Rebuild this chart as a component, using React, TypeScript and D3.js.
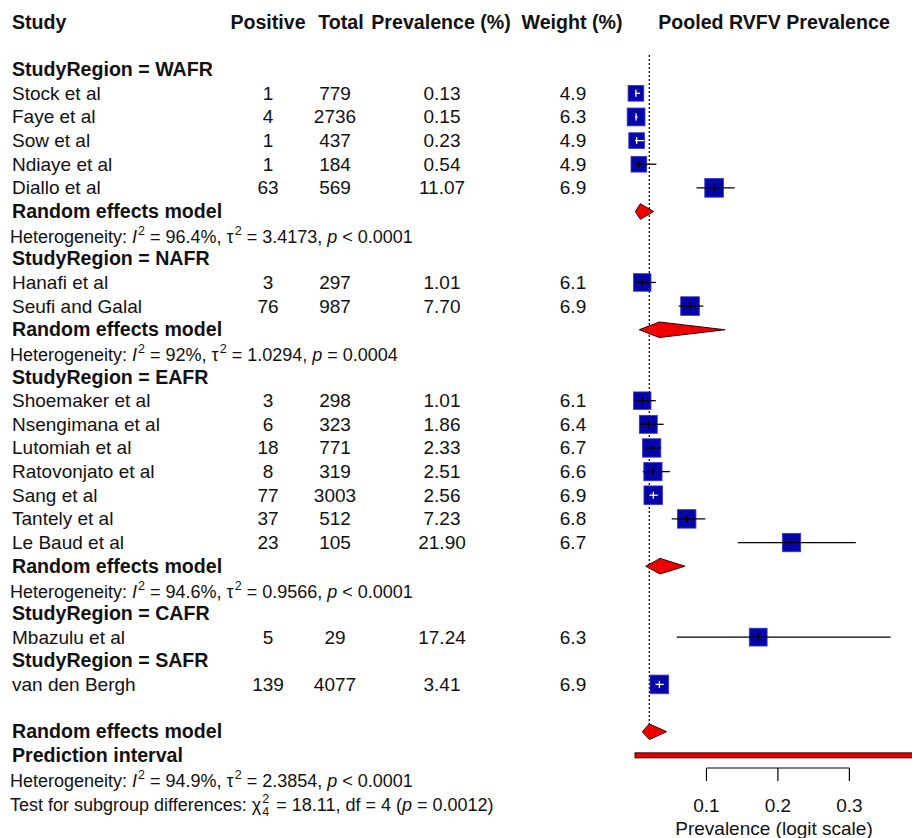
import React from "react";
import * as d3 from "d3";

// ---------- data ----------
const regionNames = ["WAFR", "NAFR", "EAFR", "CAFR", "SAFR"];
const studyNames = [
  "Stock et al", "Faye et al", "Sow et al", "Ndiaye et al", "Diallo et al",
  "Hanafi et al", "Seufi and Galal",
  "Shoemaker et al", "Nsengimana et al", "Lutomiah et al", "Ratovonjato et al", "Sang et al", "Tantely et al", "Le Baud et al",
  "Mbazulu et al",
  "van den Bergh",
];
const studyRegion = [
  "WAFR", "WAFR", "WAFR", "WAFR", "WAFR",
  "NAFR", "NAFR",
  "EAFR", "EAFR", "EAFR", "EAFR", "EAFR", "EAFR", "EAFR",
  "CAFR",
  "SAFR",
];
const positives = [1, 4, 1, 1, 63, 3, 76, 3, 6, 18, 8, 77, 37, 23, 5, 139];
const totals = [779, 2736, 437, 184, 569, 297, 987, 298, 323, 771, 319, 3003, 512, 105, 29, 4077];
const prevalence = [0.13, 0.15, 0.23, 0.54, 11.07, 1.01, 7.7, 1.01, 1.86, 2.33, 2.51, 2.56, 7.23, 21.9, 17.24, 3.41];
const weights = [4.9, 6.3, 4.9, 4.9, 6.9, 6.1, 6.9, 6.1, 6.4, 6.7, 6.6, 6.9, 6.8, 6.7, 6.3, 6.9];
const ciLower = [0.0, 0.04, 0.01, 0.01, 8.61, 0.21, 6.11, 0.21, 0.68, 1.39, 1.09, 2.03, 5.14, 14.4, 5.85, 2.87];
const ciUpper = [0.71, 0.37, 1.27, 2.99, 13.96, 2.92, 9.55, 2.91, 4.0, 3.66, 4.88, 3.19, 9.83, 30.9, 35.77, 4.02];

// subgroup pooled estimates (%), only regions with > 1 study
const pooledRegions = ["WAFR", "NAFR", "EAFR"];
const pooledEst = [0.75, 3.4, 3.5];
const pooledLower = [0.05, 0.6, 1.5];
const pooledUpper = [2.6, 12.6, 7.0];
const hetI2 = ["96.4%", "92%", "94.6%"];
const hetTau2 = ["3.4173", "1.0294", "0.9566"];
const hetP = ["< 0.0001", "= 0.0004", "< 0.0001"];

// overall
const overallEst = 2.0;
const overallLower = 1.02;
const overallUpper = 4.43;
const predLower = 0.0;
const predUpper = 55.0;
const overallI2 = "94.9%";
const overallTau2 = "2.3854";
const overallP = "< 0.0001";
const subgroupChi2 = "18.11";
const subgroupDf = "4";
const subgroupP = "0.0012";

const axisTicks = [0.1, 0.2, 0.3];
const headers = ["Study", "Positive", "Total", "Prevalence (%)", "Weight (%)", "Pooled RVFV Prevalence"];

// ---------- layout ----------
const W = 912;
const H = 838;
const FONT = "'Liberation Sans', Arial, Helvetica, sans-serif";
const FS = 19;
const BFS = 19.6;
const HFS = 18;
const TXT = "#111";

const x = d3.scaleLinear().domain([0, 0.389]).range([635, 913]);
const y = d3.scaleLinear().domain([0, 27]).range([93.3, 731.7]);

const colX = { study: 12, pos: 268, tot: 335, totH: 341, prev: 442, prevH: 441, wt: 573, wtH: 572, plot: 774 };

type Row =
  | { kind: "header"; row: number; region: string }
  | { kind: "study"; row: number; idx: number }
  | { kind: "pooled"; row: number; g: number }
  | { kind: "het"; row: number; g: number };

function buildRows(): Row[] {
  const rows: Row[] = [];
  let r = -1;
  regionNames.forEach((reg) => {
    rows.push({ kind: "header", row: r, region: reg });
    r++;
    const idxs = studyRegion.map((s, i) => (s === reg ? i : -1)).filter((i) => i >= 0);
    idxs.forEach((i) => {
      rows.push({ kind: "study", row: r, idx: i });
      r++;
    });
    const g = pooledRegions.indexOf(reg);
    if (g >= 0) {
      rows.push({ kind: "pooled", row: r, g });
      rows.push({ kind: "het", row: r + 1, g });
      r += 2;
    }
  });
  return rows;
}

function Diamond({ lo, est, hi, cy }: { lo: number; est: number; hi: number; cy: number }) {
  const h = 7.8;
  const pts = [
    [x(lo / 100), cy],
    [x(est / 100), cy - h],
    [x(hi / 100), cy],
    [x(est / 100), cy + h],
  ];
  return (
    <polygon
      points={pts.map((p) => p.join(",")).join(" ")}
      fill="#ee0000"
      stroke="#3a0000"
      strokeWidth={1}
    />
  );
}

function HetText({ yb, i2, tau2, p }: { yb: number; i2: string; tau2: string; p: string }) {
  return (
    <text x={colX.study - 2} y={yb} fontSize={HFS} fill={TXT}>
      Heterogeneity:{" "}
      <tspan fontStyle="italic">I</tspan>
      <tspan fontSize={12.5} dy={-8} dx={1}>2</tspan>
      <tspan dy={8}>{` = ${i2}, τ`}</tspan>
      <tspan fontSize={12.5} dy={-8} dx={1}>2</tspan>
      <tspan dy={8}>{` = ${tau2}, `}</tspan>
      <tspan fontStyle="italic">p</tspan>
      <tspan>{` ${p}`}</tspan>
    </text>
  );
}

export default function App() {
  const rows = buildRows();
  const headerY = y(-3) + 6.5;
  return (
    <svg
      width={W}
      height={H}
      style={{ position: "absolute", left: 0, top: 0, background: "#fff" }}
      fontFamily={FONT}
    >
      <rect x={0} y={0} width={W} height={H} fill="#fff" />
      {/* headers */}
      <g fontWeight="bold" fontSize={BFS} fill={TXT}>
        <text x={colX.study} y={headerY}>{headers[0]}</text>
        <text x={colX.pos} y={headerY} textAnchor="middle">{headers[1]}</text>
        <text x={colX.totH} y={headerY} textAnchor="middle">{headers[2]}</text>
        <text x={colX.prevH} y={headerY} textAnchor="middle">{headers[3]}</text>
        <text x={colX.wtH} y={headerY} textAnchor="middle">{headers[4]}</text>
        <text x={colX.plot} y={headerY} textAnchor="middle">{headers[5]}</text>
      </g>

      {/* reference dotted line at overall estimate */}
      <line
        x1={x(overallEst / 100)}
        x2={x(overallEst / 100)}
        y1={55}
        y2={y(27) - 7}
        stroke="#000"
        strokeWidth={1.2}
        strokeDasharray="2,2"
      />

      {rows.map((row, k) => {
        const cy = y(row.row);
        const yb = cy + 6.5;
        if (row.kind === "header") {
          return (
            <text key={k} x={colX.study} y={yb} fontSize={BFS} fontWeight="bold" fill={TXT}>
              {`StudyRegion = ${row.region}`}
            </text>
          );
        }
        if (row.kind === "pooled") {
          return (
            <g key={k}>
              <text x={colX.study} y={yb} fontSize={BFS} fontWeight="bold" fill={TXT}>
                Random effects model
              </text>
              <Diamond lo={pooledLower[row.g]} est={pooledEst[row.g]} hi={pooledUpper[row.g]} cy={cy} />
            </g>
          );
        }
        if (row.kind === "het") {
          return (
            <HetText key={k} yb={cy + 8} i2={hetI2[row.g]} tau2={hetTau2[row.g]} p={hetP[row.g]} />
          );
        }
        const i = row.idx;
        const side = 7.1 * Math.sqrt(weights[i]);
        const cx = x(prevalence[i] / 100);
        const lo = x(ciLower[i] / 100);
        const hi = x(ciUpper[i] / 100);
        const inside = lo >= cx - side / 2 && hi <= cx + side / 2;
        const lc = inside ? "#fff" : "#000";
        return (
          <g key={k}>
            <g fontSize={FS} fill={TXT}>
              <text x={colX.study} y={yb}>{studyNames[i]}</text>
              <text x={colX.pos} y={yb} textAnchor="middle">{positives[i]}</text>
              <text x={colX.tot} y={yb} textAnchor="middle">{totals[i]}</text>
              <text x={colX.prev} y={yb} textAnchor="middle">{prevalence[i].toFixed(2)}</text>
              <text x={colX.wt} y={yb} textAnchor="middle">{weights[i].toFixed(1)}</text>
            </g>
            <rect
              x={cx - side / 2}
              y={cy - side / 2}
              width={side}
              height={side}
              fill="#0606a8"
              stroke="#3636cc"
              strokeWidth={0.8}
            />
            <line x1={lo} x2={hi} y1={cy} y2={cy} stroke={lc} strokeWidth={1.3} />
            <line x1={cx} x2={cx} y1={cy - 3.5} y2={cy + 3.5} stroke={lc} strokeWidth={1.3} />
          </g>
        );
      })}

      {/* overall */}
      <text x={colX.study} y={y(27) + 6.5} fontSize={BFS} fontWeight="bold" fill={TXT}>
        Random effects model
      </text>
      <Diamond lo={overallLower} est={overallEst} hi={overallUpper} cy={y(27)} />
      <text x={colX.study} y={y(28) + 6.5} fontSize={BFS} fontWeight="bold" fill={TXT}>
        Prediction interval
      </text>
      <rect
        x={x(predLower / 100)}
        y={y(28) - 2.5}
        width={Math.min(x(predUpper / 100), x.range()[1]) - x(predLower / 100)}
        height={5}
        fill="#e00000"
        stroke="#4a0000"
        strokeWidth={1}
      />
      <HetText yb={y(29) + 8} i2={overallI2} tau2={overallTau2} p={overallP} />
      <text x={colX.study - 2} y={y(30) + 8} fontSize={HFS} fill={TXT}>
        Test for subgroup differences: χ
        <tspan fontSize={12.5} dy={-8} dx={1}>2</tspan>
        <tspan fontSize={12.5} dx={-7} dy={13}>{subgroupDf}</tspan>
        <tspan dy={-5} dx={2}>{` = ${subgroupChi2}, df = ${subgroupDf} (`}</tspan>
        <tspan fontStyle="italic">p</tspan>
        <tspan>{`  = ${subgroupP})`}</tspan>
      </text>

      {/* x axis */}
      <g stroke="#000" strokeWidth={1.2} fill="none">
        <line x1={x(axisTicks[0])} x2={x(axisTicks[axisTicks.length - 1])} y1={768} y2={768} />
        {axisTicks.map((t) => (
          <line key={t} x1={x(t)} x2={x(t)} y1={768} y2={781} />
        ))}
      </g>
      <g fontSize={FS} fill={TXT} textAnchor="middle">
        {axisTicks.map((t) => (
          <text key={t} x={x(t)} y={812}>{t.toFixed(1)}</text>
        ))}
        <text x={colX.plot} y={835}>Prevalence (logit scale)</text>
      </g>
    </svg>
  );
}
